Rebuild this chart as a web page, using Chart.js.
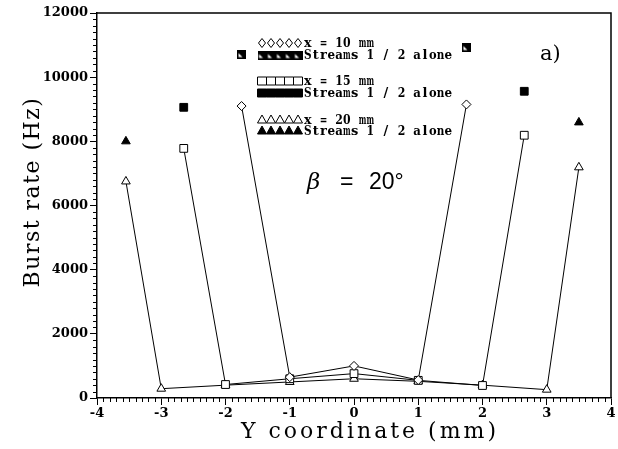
<!DOCTYPE html>
<html>
<head>
<meta charset="utf-8">
<script src="https://cdn.jsdelivr.net/npm/chart.js@4.4.1/dist/chart.umd.min.js"></script>
<style>
  html, body { margin: 0; padding: 0; background: #fff; }
</style>
</head>
<body>
<canvas id="burstChart" width="618" height="449"></canvas>
<script>
// values: Y coordinate (mm) / burst rate (Hz)
const yPos10 = [-1.75, -1, 0, 1, 1.75];
const rate10 = [9100, 650, 1000, 560, 9150];
const yPos10Alone = [-1.75, 1.75];
const rate10Alone = [10720, 10940];

const yPos15 = [-2.65, -2, -1, 0, 1, 2, 2.65];
const rate15 = [7780, 420, 600, 760, 550, 390, 8190];
const yPos15Alone = [-2.65, 2.65];
const rate15Alone = [9060, 9560];

const yPos20 = [-3.55, -3, -2, -1, 0, 1, 2, 3, 3.5];
const rate20 = [6750, 290, 400, 500, 600, 520, 400, 260, 7190];
const yPos20Alone = [-3.55, 3.5];
const rate20Alone = [8000, 8590];

const xTicks = [-4, -3, -2, -1, 0, 1, 2, 3, 4];
const yTicks = [0, 2000, 4000, 6000, 8000, 10000, 12000];

const legendRows = [
  "x = 10 mm", "Streams 1 / 2 alone",
  "x = 15 mm", "Streams 1 / 2 alone",
  "x = 20 mm", "Streams 1 / 2 alone"
];

function pts(xs, ys) {
  return xs.map(function (x, i) { return { x: x, y: ys[i] }; });
}

// black square with a white notch, used for the x = 10 mm "alone" points
function halfSquare() {
  const c = document.createElement("canvas");
  c.width = 9; c.height = 9;
  const g = c.getContext("2d");
  g.fillStyle = "#000";
  g.fillRect(0, 0, 9, 9);
  g.fillStyle = "#fff";
  g.beginPath();
  g.moveTo(1.5, 7.5); g.lineTo(1.5, 3.5); g.lineTo(5.5, 7.5);
  g.closePath();
  g.fill();
  return c;
}
const halfSq = halfSquare();

function lineSet(label, data, style, radius) {
  return {
    label: label, data: data, showLine: true,
    borderColor: "#000", borderWidth: 1,
    pointStyle: style, pointRadius: radius, pointBorderWidth: 1,
    pointBackgroundColor: "#fff", pointBorderColor: "#000"
  };
}
function aloneSet(label, data, style, radius) {
  return {
    label: label, data: data, showLine: false,
    pointStyle: style, pointRadius: radius, pointBorderWidth: 1,
    pointBackgroundColor: "#000", pointBorderColor: "#000"
  };
}

function mark(ctx, style, x, y, filled) {
  ctx.save();
  ctx.fillStyle = filled ? "#000" : "#fff";
  ctx.strokeStyle = "#000";
  ctx.lineWidth = 1;
  ctx.beginPath();
  if (style === "diamond") {
    ctx.moveTo(x, y - 4.5); ctx.lineTo(x + 3.5, y); ctx.lineTo(x, y + 4.5); ctx.lineTo(x - 3.5, y);
  } else if (style === "square") {
    ctx.rect(x - 4.5, y - 4, 9, 8);
  } else if (style === "triangle") {
    ctx.moveTo(x, y - 5); ctx.lineTo(x + 4.5, y + 3); ctx.lineTo(x - 4.5, y + 3);
  }
  ctx.closePath();
  ctx.fill();
  ctx.stroke();
  ctx.restore();
}

function monoText(ctx, text, x, y, pitch) {
  for (let i = 0; i < text.length; i++) {
    if (text[i] !== " ") ctx.fillText(text[i], x + i * pitch + pitch / 2, y, pitch - 0.2);
  }
}

const extras = {
  id: "extras",
  afterDraw: function (chart) {
    const ctx = chart.ctx;
    const a = chart.chartArea;
    const xs = chart.scales.x, ys = chart.scales.y;
    ctx.save();
    ctx.strokeStyle = "#000";
    ctx.lineWidth = 1.5;
    ctx.beginPath();
    ctx.moveTo(a.left, a.top); ctx.lineTo(a.right, a.top); ctx.lineTo(a.right, a.bottom);
    ctx.stroke();

    // minor ticks
    ctx.lineWidth = 1;
    ctx.beginPath();
    for (let v = -40; v <= 40; v++) {
      if (v % 10 === 0) continue;
      const px = Math.round(xs.getPixelForValue(v / 10)) + 0.5;
      ctx.moveTo(px, a.bottom); ctx.lineTo(px, a.bottom + 4);
    }
    for (let v = 0; v <= 60; v++) {
      if (v % 10 === 0) continue;
      const py = Math.round(ys.getPixelForValue(v * 200)) + 0.5;
      ctx.moveTo(a.left, py); ctx.lineTo(a.left - 4, py);
    }
    ctx.stroke();

    // axis titles
    ctx.fillStyle = "#000";
    ctx.textAlign = "center";
    ctx.textBaseline = "middle";
    ctx.font = "22px 'DejaVu Serif'";
    ctx.letterSpacing = "3px";
    ctx.fillText("Y coordinate (mm)", 370, 432);
    ctx.save();
    ctx.translate(33, 192);
    ctx.rotate(-Math.PI / 2);
    ctx.letterSpacing = "1.5px";
    ctx.fillText("Burst rate (Hz)", 0, 0);
    ctx.restore();
    ctx.letterSpacing = "0px";

    // annotations
    ctx.font = "21px 'DejaVu Serif'";
    ctx.textAlign = "left";
    ctx.fillText("a)", 540, 55);
    ctx.font = "italic 23px 'DejaVu Serif'";
    ctx.fillText("\u03b2", 307, 183);
    ctx.font = "23px 'Liberation Sans'";
    ctx.fillText("=", 340, 183);
    ctx.fillText("20\u00b0", 369, 183);

    // legend
    const rowY = [43, 55, 81, 93, 120, 131];
    for (let k = 0; k < 5; k++) {
      const sx = 262 + k * 9;
      mark(ctx, "diamond", sx, rowY[0], false);
      ctx.drawImage(halfSq, sx - 4.5, rowY[1] - 4.5);
      mark(ctx, "square", sx, rowY[2], false);
      mark(ctx, "square", sx, rowY[3], true);
      mark(ctx, "triangle", sx, rowY[4], false);
      mark(ctx, "triangle", sx, rowY[5], true);
    }
    ctx.font = "bold 13px 'DejaVu Serif'";
    ctx.textAlign = "center";
    for (let r = 0; r < legendRows.length; r++) {
      monoText(ctx, legendRows[r], 304, rowY[r] + 1, 7.8);
    }
    ctx.restore();
  }
};

const tickFont = { family: "'DejaVu Serif'", weight: "bold", size: 13 };

new Chart(document.getElementById("burstChart"), {
  type: "scatter",
  data: {
    datasets: [
      lineSet("x = 10 mm", pts(yPos10, rate10), "rectRot", 4.5),
      aloneSet("Streams 1 / 2 alone (10 mm)", pts(yPos10Alone, rate10Alone), halfSq, 5),
      lineSet("x = 15 mm", pts(yPos15, rate15), "rect", 5.5),
      aloneSet("Streams 1 / 2 alone (15 mm)", pts(yPos15Alone, rate15Alone), "rect", 5.5),
      lineSet("x = 20 mm", pts(yPos20, rate20), "triangle", 5),
      aloneSet("Streams 1 / 2 alone (20 mm)", pts(yPos20Alone, rate20Alone), "triangle", 5)
    ]
  },
  options: {
    responsive: false,
    animation: false,
    layout: { padding: { left: 0, right: 7, top: 13, bottom: 0 } },
    plugins: { legend: { display: false }, tooltip: { enabled: false } },
    scales: {
      x: {
        type: "linear", min: -4, max: 4,
        afterBuildTicks: function (s) { s.ticks = xTicks.map(function (v) { return { value: v }; }); },
        afterFit: function (s) { s.height = 51; },
        ticks: { color: "#000", font: tickFont, padding: 1, maxRotation: 0,
          callback: function (v) { return String(v); } },
        grid: { drawOnChartArea: false, color: "#000", tickColor: "#000", tickLength: 7 },
        border: { color: "#000", width: 1.5 }
      },
      y: {
        min: 0, max: 12000,
        afterBuildTicks: function (s) { s.ticks = yTicks.map(function (v) { return { value: v }; }); },
        afterFit: function (s) { s.width = 97; },
        ticks: { color: "#000", font: tickFont, padding: 2,
          callback: function (v) { return String(v); } },
        grid: { drawOnChartArea: false, color: "#000", tickColor: "#000", tickLength: 7 },
        border: { color: "#000", width: 1.5 }
      }
    }
  },
  plugins: [extras]
});
</script>
</body>
</html>
